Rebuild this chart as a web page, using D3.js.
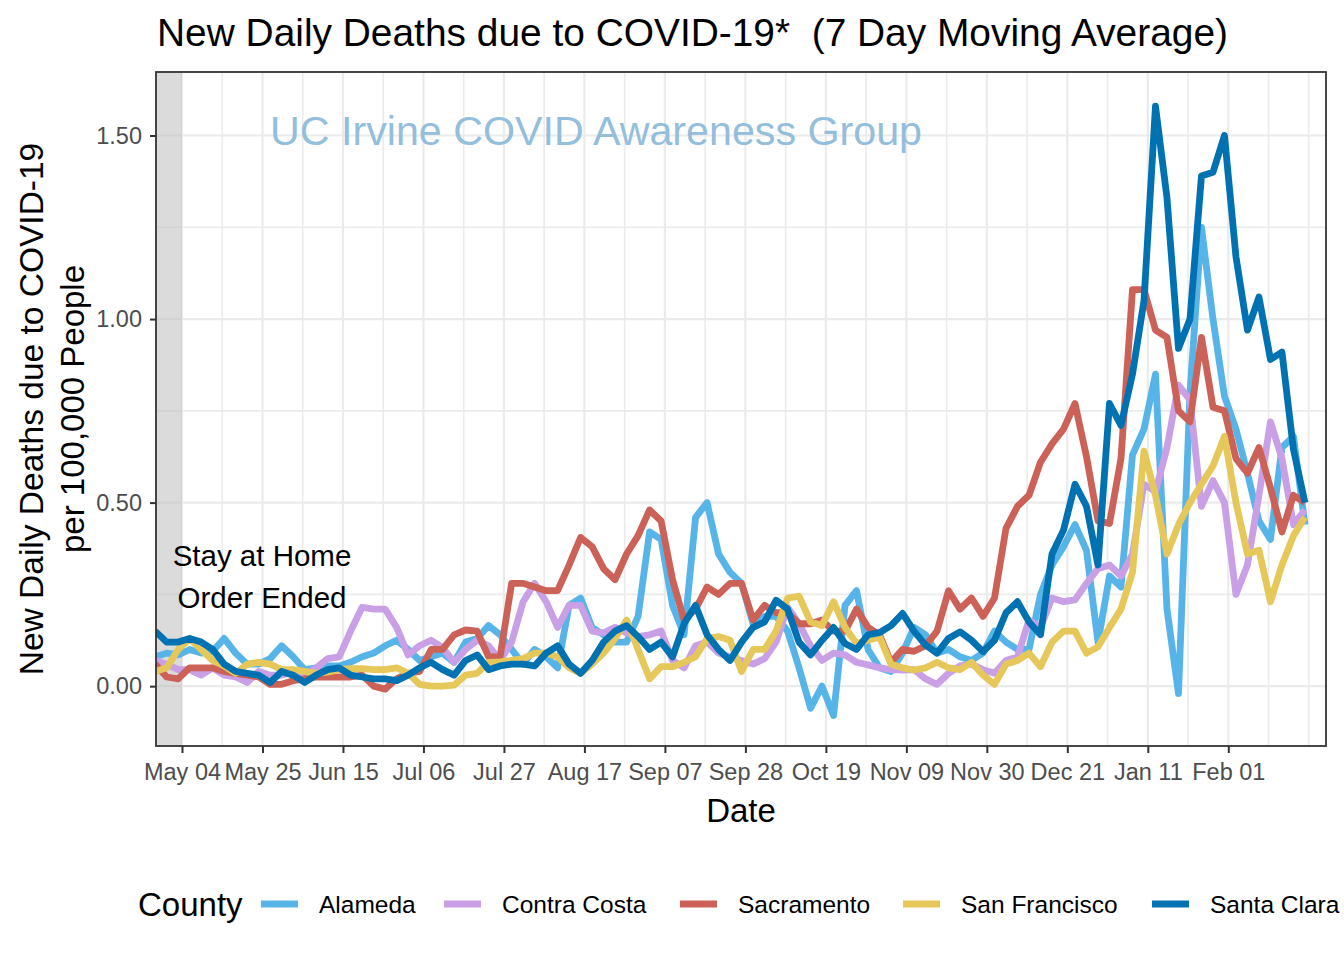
<!DOCTYPE html>
<html><head><meta charset="utf-8">
<script src="https://cdn.jsdelivr.net/npm/d3@7"></script>
<style>
body{margin:0;background:#fff}
svg{display:block}
text{font-family:"Liberation Sans",Arial,Helvetica,sans-serif; white-space:pre}
</style>
</head><body>
<svg id="chart" width="1344" height="960"></svg>
<script>
// ---------------- data ----------------
const counties = ["Alameda", "Contra Costa", "Sacramento", "San Francisco", "Santa Clara"];
const countyColors = ["#56B4E9", "#C9A0E6", "#CC6158", "#E6C85A", "#0072B2"];
const seriesStart = "2020-04-27";
const seriesStepDays = 3;

const alameda = [
  0.08, 0.09, 0.085, 0.10, 0.09, 0.095, 0.13, 0.09, 0.06, 0.06,
  0.075, 0.11, 0.08, 0.045, 0.05, 0.055, 0.055, 0.065, 0.08, 0.09,
  0.11, 0.125, 0.10, 0.07, 0.08, 0.09, 0.065, 0.12, 0.13, 0.165,
  0.14, 0.10, 0.06, 0.10, 0.08, 0.05, 0.22, 0.24, 0.16, 0.14,
  0.12, 0.12, 0.19, 0.42, 0.40, 0.22, 0.14, 0.46, 0.50, 0.36,
  0.31, 0.28, 0.17, 0.19, 0.19, 0.15, 0.05, -0.06, 0.0, -0.08,
  0.22, 0.26, 0.10, 0.05, 0.04, 0.09, 0.16, 0.14, 0.09, 0.10,
  0.08, 0.07, 0.09, 0.15, 0.12, 0.10, 0.10, 0.25, 0.33, 0.38,
  0.44, 0.37, 0.12, 0.30, 0.27, 0.63, 0.70, 0.85, 0.21, -0.02,
  0.80, 1.25, 1.00, 0.79, 0.70, 0.58, 0.45, 0.40, 0.65, 0.68,
  0.44
];
const contraCosta = [
  0.07, 0.06, 0.045, 0.045, 0.03, 0.05, 0.03, 0.025, 0.01, 0.04,
  0.03, 0.03, 0.04, 0.03, 0.05, 0.075, 0.08, 0.15, 0.215, 0.21,
  0.21, 0.16, 0.085, 0.11, 0.125, 0.105, 0.065, 0.10, 0.125, 0.11,
  0.07, 0.12, 0.23, 0.28, 0.23, 0.16, 0.22, 0.22, 0.15, 0.145,
  0.16, 0.145, 0.135, 0.14, 0.15, 0.07, 0.05, 0.11, 0.12, 0.09,
  0.08, 0.07, 0.06, 0.075, 0.12, 0.215, 0.17, 0.11, 0.07, 0.09,
  0.085, 0.065, 0.058, 0.05, 0.045, 0.044, 0.045, 0.02, 0.005, 0.035,
  0.055, 0.06, 0.045, 0.035, 0.07, 0.08, 0.18, 0.16, 0.24, 0.23,
  0.235, 0.28, 0.32, 0.33, 0.30, 0.36, 0.55, 0.53, 0.65, 0.82,
  0.78, 0.49, 0.56, 0.50, 0.25, 0.33, 0.52, 0.72, 0.62, 0.44,
  0.48
];
const sacramento = [
  0.06, 0.025, 0.02, 0.05, 0.05, 0.05, 0.04, 0.035, 0.03, 0.025,
  0.005, 0.005, 0.015, 0.02, 0.025, 0.025, 0.025, 0.025, 0.03, 0.0,
  -0.008, 0.02, 0.035, 0.04, 0.10, 0.10, 0.14, 0.153, 0.15, 0.08,
  0.08, 0.28, 0.28, 0.27, 0.26, 0.26, 0.33, 0.405, 0.38, 0.32,
  0.29, 0.36, 0.41, 0.48, 0.45, 0.29, 0.18, 0.21, 0.27, 0.25,
  0.28, 0.28, 0.18, 0.22, 0.20, 0.20, 0.17, 0.17, 0.18, 0.15,
  0.15, 0.21, 0.16, 0.14, 0.065, 0.10, 0.095, 0.11, 0.15, 0.26,
  0.21, 0.24, 0.19, 0.24, 0.43, 0.49, 0.52, 0.61, 0.66, 0.70,
  0.77, 0.625, 0.45, 0.443, 0.62, 1.08, 1.08, 0.97, 0.95, 0.75,
  0.72, 0.95, 0.76, 0.75, 0.62, 0.58, 0.65, 0.54, 0.42, 0.52,
  0.50
];
const sanFrancisco = [
  0.04, 0.05, 0.10, 0.13, 0.10, 0.07, 0.055, 0.035, 0.06, 0.065,
  0.06, 0.045, 0.045, 0.04, 0.035, 0.038, 0.045, 0.048, 0.048, 0.045,
  0.045, 0.05, 0.035, 0.005, 0.0, 0.0, 0.003, 0.03, 0.035, 0.065,
  0.066, 0.07, 0.075, 0.09, 0.09, 0.08, 0.05, 0.035, 0.06, 0.09,
  0.13, 0.18, 0.10, 0.02, 0.053, 0.053, 0.065, 0.08, 0.13, 0.135,
  0.125, 0.04, 0.10, 0.10, 0.15, 0.24, 0.245, 0.175, 0.165, 0.23,
  0.16, 0.116, 0.125, 0.134, 0.06, 0.05, 0.044, 0.05, 0.065, 0.05,
  0.045, 0.065, 0.03, 0.005, 0.06, 0.07, 0.09, 0.053, 0.12, 0.15,
  0.15, 0.09, 0.107, 0.16, 0.21, 0.31, 0.64, 0.52, 0.36, 0.44,
  0.50, 0.55, 0.60, 0.68, 0.50, 0.36, 0.37, 0.23, 0.33, 0.41,
  0.46
];
const santaClara = [
  0.15, 0.12, 0.12, 0.13, 0.12, 0.10, 0.06, 0.04, 0.035, 0.03,
  0.01, 0.04, 0.03, 0.01, 0.03, 0.045, 0.05, 0.03, 0.025, 0.02,
  0.02, 0.015, 0.03, 0.05, 0.065, 0.045, 0.03, 0.07, 0.085, 0.045,
  0.055, 0.06, 0.06, 0.055, 0.09, 0.11, 0.06, 0.035, 0.07, 0.12,
  0.15, 0.165, 0.135, 0.10, 0.12, 0.08, 0.17, 0.22, 0.14, 0.10,
  0.07, 0.12, 0.16, 0.175, 0.234, 0.21, 0.12, 0.085, 0.125, 0.16,
  0.116, 0.10, 0.14, 0.146, 0.165, 0.198, 0.15, 0.112, 0.09, 0.13,
  0.148, 0.125, 0.094, 0.125, 0.20, 0.23, 0.175, 0.14, 0.36, 0.425,
  0.55, 0.49, 0.33, 0.77, 0.71, 0.85, 1.05, 1.58, 1.33, 0.92,
  1.00, 1.39, 1.40, 1.50, 1.17, 0.97, 1.06, 0.89, 0.91, 0.645,
  0.50
];
const seriesValues = [alameda, contraCosta, sacramento, sanFrancisco, santaClara];

const xTickDates = ["2020-05-04", "2020-05-25", "2020-06-15", "2020-07-06", "2020-07-27",
  "2020-08-17", "2020-09-07", "2020-09-28", "2020-10-19", "2020-11-09", "2020-11-30",
  "2020-12-21", "2021-01-11", "2021-02-01"];
const xTickLabels = ["May 04", "May 25", "Jun 15", "Jul 06", "Jul 27", "Aug 17", "Sep 07",
  "Sep 28", "Oct 19", "Nov 09", "Nov 30", "Dec 21", "Jan 11", "Feb 01"];
const xMinorDates = ["2020-04-23T12:00", "2020-05-14T12:00", "2020-06-04T12:00", "2020-06-25T12:00",
  "2020-07-16T12:00", "2020-08-06T12:00", "2020-08-27T12:00", "2020-09-17T12:00",
  "2020-10-08T12:00", "2020-10-29T12:00", "2020-11-19T12:00", "2020-12-10T12:00",
  "2020-12-31T12:00", "2021-01-21T12:00", "2021-02-11T12:00", "2021-02-22"];
const yTicks = [0, 0.5, 1.0, 1.5];
const yTickLabels = ["0.00", "0.50", "1.00", "1.50"];
const yMinor = [0.25, 0.75, 1.25];
const shadeEnd = "2020-05-04";

// ---------------- layout ----------------
const W = 1344, H = 960;
const P = {left: 156, right: 1326, top: 72, bottom: 746};
const FONT = '"Liberation Sans", Arial, Helvetica, sans-serif';
const parse = s => new Date(s.length > 10 ? s + ":00Z" : s + "T00:00:00Z");

const svg = d3.select("#chart");
svg.append("rect").attr("width", W).attr("height", H).attr("fill", "#fff");

const x = d3.scaleUtc()
  .domain([parse("2020-05-04"), parse("2021-02-01")])
  .range([182, 1228.3]);
const y = d3.scaleLinear().domain([-0.163, 1.673]).range([P.bottom, P.top]);

const start = parse(seriesStart);
const dates = alameda.map((_, i) => d3.utcDay.offset(start, i * seriesStepDays));

svg.append("defs").append("clipPath").attr("id", "panel")
  .append("rect").attr("x", P.left).attr("y", P.top)
  .attr("width", P.right - P.left).attr("height", P.bottom - P.top);

const panel = svg.append("g").attr("clip-path", "url(#panel)");

// grid
panel.selectAll(".ymin").data(yMinor).join("line")
  .attr("x1", P.left).attr("x2", P.right)
  .attr("y1", d => y(d)).attr("y2", d => y(d))
  .attr("stroke", "#EBEBEB").attr("stroke-width", 1.6);
panel.selectAll(".xmin").data(xMinorDates.map(parse)).join("line")
  .attr("y1", P.top).attr("y2", P.bottom)
  .attr("x1", d => x(d)).attr("x2", d => x(d))
  .attr("stroke", "#EBEBEB").attr("stroke-width", 1.6);
panel.selectAll(".ymaj").data(yTicks).join("line")
  .attr("x1", P.left).attr("x2", P.right)
  .attr("y1", d => y(d)).attr("y2", d => y(d))
  .attr("stroke", "#EBEBEB").attr("stroke-width", 2.2);
panel.selectAll(".xmaj").data(xTickDates.map(parse)).join("line")
  .attr("y1", P.top).attr("y2", P.bottom)
  .attr("x1", d => x(d)).attr("x2", d => x(d))
  .attr("stroke", "#EBEBEB").attr("stroke-width", 2.2);

// shaded stay-at-home period
panel.append("rect")
  .attr("x", P.left).attr("y", P.top)
  .attr("width", x(parse(shadeEnd)) - P.left).attr("height", P.bottom - P.top)
  .attr("fill", "#BEBEBE").attr("opacity", 0.55);

// watermark
svg.append("text")
  .attr("x", 270).attr("y", 145)
  .attr("font-size", 41).attr("fill", "#93BEDC")
  .attr("textLength", 652).attr("lengthAdjust", "spacingAndGlyphs")
  .text("UC Irvine COVID Awareness Group");

// lines
const line = d3.line().x(d => x(d.date)).y(d => y(d.v)).curve(d3.curveLinear);
counties.forEach((c, i) => {
  const pts = seriesValues[i].map((v, j) => ({date: dates[j], v}));
  panel.append("path").datum(pts)
    .attr("d", line)
    .attr("fill", "none")
    .attr("stroke", countyColors[i])
    .attr("stroke-width", 6.8)
    .attr("stroke-linejoin", "round")
    .attr("stroke-linecap", "butt");
});

// annotation
const ann = svg.append("text").attr("font-size", 29.5).attr("fill", "#000").attr("text-anchor", "middle");
ann.append("tspan").attr("x", 262).attr("y", 566).text("Stay at Home");
ann.append("tspan").attr("x", 262).attr("y", 608).text("Order Ended");

// panel border
svg.append("rect")
  .attr("x", P.left).attr("y", P.top)
  .attr("width", P.right - P.left).attr("height", P.bottom - P.top)
  .attr("fill", "none").attr("stroke", "#333333").attr("stroke-width", 1.8);

// x axis
const xAxis = d3.axisBottom(x)
  .tickValues(xTickDates.map(parse))
  .tickFormat((d, i) => xTickLabels[i])
  .tickSize(7).tickPadding(10);
const gx = svg.append("g").attr("transform", `translate(0,${P.bottom})`).call(xAxis);
gx.select(".domain").remove();
gx.selectAll(".tick line").attr("stroke", "#333333").attr("stroke-width", 2);
gx.selectAll(".tick text").attr("font-family", FONT).attr("font-size", 23.5).attr("fill", "#4D4D4D");

// y axis
const yAxis = d3.axisLeft(y)
  .tickValues(yTicks)
  .tickFormat((d, i) => yTickLabels[i])
  .tickSize(6).tickPadding(8);
const gy = svg.append("g").attr("transform", `translate(${P.left},0)`).call(yAxis);
gy.select(".domain").remove();
gy.selectAll(".tick line").attr("stroke", "#333333").attr("stroke-width", 2);
gy.selectAll(".tick text").attr("font-family", FONT).attr("font-size", 23.5).attr("fill", "#4D4D4D");

// titles
svg.append("text").attr("x", 157).attr("y", 46)
  .attr("font-size", 38.8).attr("fill", "#000")
  .attr("textLength", 1071).attr("lengthAdjust", "spacingAndGlyphs")
  .text("New Daily Deaths due to COVID-19*\u00A0\u00A0(7 Day Moving Average)");

svg.append("text").attr("x", (P.left + P.right) / 2).attr("y", 822)
  .attr("font-size", 33).attr("text-anchor", "middle").attr("fill", "#000")
  .text("Date");

const yc = (P.top + P.bottom) / 2;
svg.append("text").attr("transform", `translate(43,${yc}) rotate(-90)`)
  .attr("font-size", 33.5).attr("text-anchor", "middle").attr("fill", "#000")
  .text("New Daily Deaths due to COVID-19");
svg.append("text").attr("transform", `translate(84,${yc}) rotate(-90)`)
  .attr("font-size", 33).attr("text-anchor", "middle").attr("fill", "#000")
  .text("per 100,000 People");

// legend
const legY = 904;
svg.append("text").attr("x", 138).attr("y", legY + 12)
  .attr("font-size", 33).attr("fill", "#000").text("County");
const keyStarts = [261, 444, 680, 903, 1152];
counties.forEach((c, i) => {
  const kx = keyStarts[i];
  svg.append("line")
    .attr("x1", kx).attr("x2", kx + 37).attr("y1", legY).attr("y2", legY)
    .attr("stroke", countyColors[i]).attr("stroke-width", 7);
  svg.append("text").attr("x", kx + 58).attr("y", legY + 9)
    .attr("font-size", 24.5).attr("fill", "#000").text(c);
});
</script>
</body></html>
